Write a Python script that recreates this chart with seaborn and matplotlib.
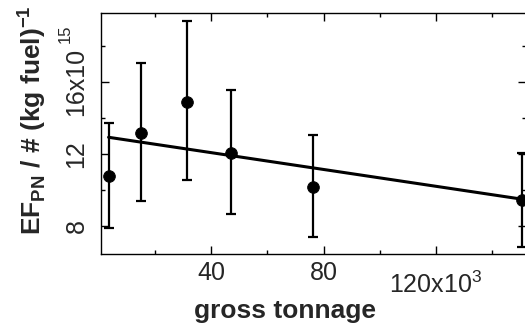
import numpy as np
import pandas as pd
import matplotlib
matplotlib.use("Agg")
import matplotlib.pyplot as plt
import matplotlib.transforms as mtransforms
import seaborn as sns

# data (gross tonnage in 1e3, EF in 1e15)
tonnage = [3.4, 15.0, 31.4, 46.9, 76.3, 150.7]
ef = [10.78, 13.18, 14.9, 12.07, 10.18, 9.44]
err_hi = [2.95, 3.9, 4.5, 3.5, 2.86, 2.6]
err_lo = [2.9, 3.8, 4.35, 3.4, 2.8, 2.6]
xticks = [40, 80, 120]
xtick_labels = ["40", "80", "120x10$^{3}$"]
yticks = [8, 12, 16]
ytick_labels = ["8", "12", "16x10"]

sns.set_theme(style="ticks")
plt.rcParams["font.family"] = ["Liberation Sans", "DejaVu Sans"]
plt.rcParams["mathtext.fontset"] = "custom"
plt.rcParams["mathtext.rm"] = "Liberation Sans"
plt.rcParams["mathtext.bf"] = "Liberation Sans:bold"

df = pd.DataFrame({"tonnage": tonnage, "ef": ef})

fig = plt.figure(figsize=(5.25, 3.24), dpi=100)
ax = fig.add_axes([0.1924, 0.216, 0.81, 0.744])

sns.regplot(data=df, x="tonnage", y="ef", ax=ax, scatter=False, ci=None,
            color="black", line_kws={"lw": 2.2})
ax.errorbar(tonnage, ef, yerr=[err_lo, err_hi], fmt="none", ecolor="black",
            elinewidth=1.6, capsize=3.5, capthick=1.6)
sns.scatterplot(data=df, x="tonnage", y="ef", ax=ax, color="black", s=70,
                edgecolor="black", zorder=5)

ax.set_xlim(0.7, 152.2)
ax.set_ylim(6.45, 19.85)
ax.set_xticks(xticks)
ax.set_xticklabels(xtick_labels, fontsize=18)
ax.set_xticks([20, 60, 100, 140], minor=True)
ax.set_yticks(yticks)
ax.set_yticklabels(ytick_labels, fontsize=18, rotation=90, va="center")
ax.set_yticks([10, 14, 18], minor=True)
ax.tick_params(which="both", direction="in", top=True, right=True,
               color="black", width=1.0)
ax.tick_params(which="major", length=5.5, pad=5)
ax.tick_params(which="minor", length=3)
ax.tick_params(axis="y", which="major", pad=9)
for s in ax.spines.values():
    s.set_color("black")
    s.set_linewidth(1.0)

# the last x tick label sits a little lower in the reference
last = ax.get_xticklabels()[-1]
last.set_transform(last.get_transform() +
                   mtransforms.ScaledTranslation(0, -8 / 72, fig.dpi_scale_trans))

ax.text(-0.085, 0.915, "15", transform=ax.transAxes, rotation=90, fontsize=12,
        ha="center", va="center")

ax.set_xlabel("gross tonnage", fontsize=19, fontweight="bold")
ax.xaxis.set_label_coords(0.433, -0.185)
ax.set_ylabel("EF$_{\\mathbf{PN}}$ / # (kg fuel)$^{\\mathbf{-1}}$", fontsize=19,
              fontweight="bold")
ax.yaxis.set_label_coords(-0.125, 0.556)

fig.savefig("out.png", dpi=100)
